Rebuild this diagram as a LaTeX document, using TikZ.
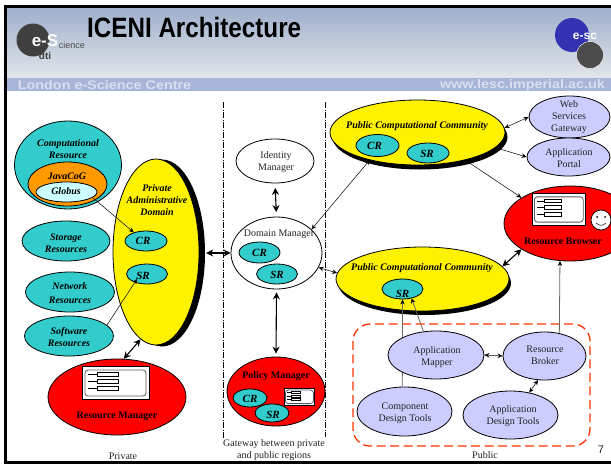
\documentclass[tikz,border=0pt]{standalone}
\usepackage{fontspec}
\setmainfont{Liberation Serif}
\newfontfamily\hsans{Liberation Sans}
\usetikzlibrary{shapes.geometric,arrows.meta,calc}
\definecolor{tealc}{HTML}{33CCCC}
\definecolor{lilac}{HTML}{CCCCFF}
\definecolor{orangec}{HTML}{FF9900}
\definecolor{paleb}{HTML}{CCFFFF}
\definecolor{txt}{HTML}{222222}
\definecolor{headtop}{HTML}{9FB0CC}
\definecolor{headbot}{HTML}{E2E5EA}
\definecolor{bandc}{HTML}{A9B5D8}
\definecolor{bandt}{HTML}{D9DFF0}
\tikzset{
  ell/.style n args={2}{ellipse,draw=black,line width=.8pt,inner sep=0pt,minimum width=#1pt,minimum height=#2pt},
  shad/.style n args={2}{ellipse,fill=black,inner sep=0pt,minimum width=#1pt,minimum height=#2pt},
  bi/.style={font=\fontsize{10}{12}\selectfont\bfseries\itshape,align=center,inner sep=0pt,text=black},
  bb/.style={font=\fontsize{10}{12}\selectfont\bfseries,align=center,inner sep=0pt,text=black},
  rg/.style={font=\fontsize{10}{12}\selectfont,align=center,inner sep=0pt,text=txt},
  thin2/.style={line width=.5pt,{Stealth[length=5pt,width=4.5pt]}-{Stealth[length=5pt,width=4.5pt]}},
  thick2/.style={line width=1.1pt,{Stealth[length=7pt,width=7pt]}-{Stealth[length=7pt,width=7pt]}},
  one/.style={line width=.5pt,-{Stealth[length=5pt,width=4.5pt]}},
  grayone/.style={draw=black!60,line width=.8pt,-{Stealth[length=5pt,width=4.5pt,black]}},
  sepline/.style={line width=.35pt,dash pattern=on 6pt off 1.5pt on 1pt off 1.5pt},
  bandtext/.style={font=\hsans\bfseries\fontsize{12.5}{14}\selectfont,text=bandt,inner sep=0pt},
}
\newcommand{\respanel}[4]{%
  \begin{scope}[shift={(#1,#2)},xscale=#3,yscale=#4]
    \draw[fill=white,line width=.7pt] (0,0) rectangle (67,33);
    \draw[black!65,line width=.8pt,rounded corners=3pt] (3,4) rectangle (64,30);
    \foreach \ry in {6,13,20}{
      \draw[line width=.5pt,fill=white] (15,\ry) rectangle (36,\ry+4);
      \draw[line width=.5pt] (6,\ry+2) -- (15,\ry+2);
    }
  \end{scope}}
\begin{document}
\begin{tikzpicture}[x=1pt,y=-1pt]
\useasboundingbox (0,0) rectangle (611,466);
\clip (0,0) rectangle (611,466);
\fill[white] (0,0) rectangle (611,466);
% header
\shade[top color=headtop,bottom color=headbot] (7,8) rectangle (611,78);
\fill[bandc] (7,78) rectangle (611,91);
\node[bandtext] (lesc) at (104.5,85) {\scalebox{1.15}[1]{London e-Science Centre}};
\node[bandtext] (www) at (522.5,85) {\scalebox{1.15}[1]{www.lesc.imperial.ac.uk}};
% left logo
\node[circle,fill=black!75,inner sep=0pt,minimum size=33pt] (lg) at (33,40) {};
\node[font=\hsans\bfseries\fontsize{17}{18}\selectfont,text=white,inner sep=0pt] (lg1) at (45,41) {e-S};
\node[font=\hsans\fontsize{9}{10}\selectfont,text=black!70,inner sep=0pt] (lg2) at (72,45) {cience};
\node[font=\hsans\bfseries\fontsize{10}{11}\selectfont,text=black!75,inner sep=0pt] (lg3) at (45,56) {dti};
% title
\node[font=\hsans\bfseries\fontsize{28}{30}\selectfont,inner sep=0pt,anchor=west] (title) at (87,27) {\scalebox{.865}[1]{ICENI Architecture}};
% right logo
\node[circle,fill=blue!62!black!80!white,inner sep=0pt,minimum size=34pt] (rl) at (572,35) {};
\node[font=\hsans\bfseries\fontsize{12}{13}\selectfont,text=white,inner sep=0pt] (rlt) at (585,36) {e-sc};
\node[circle,fill=black!70,draw=white,inner sep=0pt,minimum size=27pt] (rl2) at (590,55) {};
% frame
\draw[line width=2.6pt,black] (5.5,6.5) rectangle (625,462.5);
% separators
\coordinate (sa1) at (223.5,102); \coordinate (sa2) at (223.5,438);
\coordinate (sb1) at (325.5,102); \coordinate (sb2) at (325.5,437);
\draw[sepline] (sa1) -- (sa2);
\draw[sepline] (sb1) -- (sb2);
% private side
\node[ell={107}{88},fill=tealc] (comp) at (68,165) {};
\node[ell={79}{44},fill=orangec] (java) at (67.5,184) {};
\node[ell={61}{20},fill=paleb] (glob) at (66.5,192) {};
\node[bi] (compL) at (68,149) {Computational\\Resource};
\node[bi] (javaL) at (67,176) {JavaCoG};
\node[bi] (globL) at (66,191) {Globus};
\node[shad={86}{187}] (yshadow) at (162,253) {};
\node[ell={86}{186},fill=yellow] (yel) at (156,252) {};
\node[bi] (yelL) at (157,200) {Private\\Administrative\\Domain};
\node[ell={42}{20},fill=tealc] (cr1) at (146,241) {};
\node[ell={41}{20},fill=tealc] (sr1) at (147,274) {};
\node[bi,font=\fontsize{11}{12}\selectfont\bfseries\itshape] (cr1L) at (143,241) {CR};
\node[bi,font=\fontsize{11}{12}\selectfont\bfseries\itshape] (sr1L) at (143,276) {SR};
\node[ell={88}{40},fill=tealc] (stor) at (66,241) {};
\node[bi] (storL) at (66,243) {Storage\\Resources};
\node[ell={89}{40},fill=tealc] (netw) at (70,292) {};
\node[bi,font=\fontsize{10}{13.5}\selectfont\bfseries\itshape] (netwL) at (70,293) {Network\\Resources};
\node[ell={89}{40},fill=tealc] (soft) at (69,336) {};
\node[bi] (softL) at (69,337) {Software\\Resources};
\node[ell={138}{76},fill=red] (rm) at (117,397) {};
\respanel{82}{366}{1}{1}
\node[bb] (rmL) at (117,416) {Resource Manager};
\coordinate (srin) at ($(sr1)+(-10,5)$);
\draw[one] (glob.-12) -- (cr1.145);
\draw[one] (soft.16) -- (srin);
\draw[thick2] (yel.260) -- (rm.80);
% gateway
\node[ell={78}{44},fill=white] (iden) at (275,161) {};
\node[rg] (idenL) at (276,162) {Identity\\Manager};
\node[ell={91}{72},fill=white] (dom) at (276.5,253) {};
\node[rg] (domL) at (279,234) {Domain Manager};
\node[ell={41}{21},fill=tealc] (cr2) at (259.5,252.5) {};
\node[ell={41}{20},fill=tealc] (sr2) at (277,274) {};
\node[bi,font=\fontsize{11}{12}\selectfont\bfseries\itshape] (cr2L) at (259.5,253) {CR};
\node[bi,font=\fontsize{11}{12}\selectfont\bfseries\itshape] (sr2L) at (277,274.5) {SR};
\node[ell={98}{69},fill=red] (pol) at (276,391.5) {};
\node[bb] (polL) at (276,376) {Policy Manager};
\node[ell={34}{18},fill=tealc] (cr3) at (250,398) {};
\respanel{284}{388}{.46}{.52}
\node[ell={34}{18},fill=tealc] (sr3) at (272,413) {};
\node[bi,font=\fontsize{11}{12}\selectfont\bfseries\itshape] (cr3L) at (250,398.5) {CR};
\node[bi,font=\fontsize{11}{12}\selectfont\bfseries\itshape] (sr3L) at (273,414.5) {SR};
\draw[thick2,shorten <=4.5pt,shorten >=4.5pt] (iden.south) -- (dom.north);
\draw[thick2,shorten <=3pt,shorten >=3pt] (dom.south) -- (pol.north);
\draw[thick2,shorten <=1pt] (yshadow.east) -- (dom.west);
% public top
\node[shad={175}{65}] (p1s) at (420,137) {};
\node[ell={175}{65},fill=yellow] (pcc1) at (417.5,132.5) {};
\node[bi] (pcc1L) at (417,126) {Public Computational Community};
\node[ell={43}{22},fill=tealc] (cr4) at (377.5,145.5) {};
\node[ell={42}{20},fill=tealc] (sr4) at (428,153) {};
\node[bi,font=\fontsize{11}{12}\selectfont\bfseries\itshape] (cr4L) at (374.5,146) {CR};
\node[bi,font=\fontsize{11}{12}\selectfont\bfseries\itshape] (sr4L) at (427,153.5) {SR};
\node[ell={81}{42},fill=lilac] (web) at (569.5,117) {};
\node[rg] (webL) at (569,117) {Web\\Services\\Gateway};
\node[ell={83}{38},fill=lilac] (port) at (568.5,157) {};
\node[rg] (portL) at (569,158) {Application\\Portal};
\node[ell={132}{75},fill=red] (brow) at (570,223.5) {};
\respanel{532}{193}{.8}{.97}
\node[circle,draw=black,line width=.7pt,fill=white,inner sep=0pt,minimum size=20pt] (face) at (601,220) {};
\fill (597,217) circle (1pt) (605,217) circle (1pt);
\draw[line width=.5pt] (596,223) .. controls (599,226) and (603,226) .. (606,223);
\node[bb] (browL) at (563,241) {Resource Browser};
% public lower
\node[shad={173}{64}] (p2s) at (424.5,283) {};
\node[ell={173}{64},fill=yellow] (pcc2) at (422.5,279) {};
\node[bi] (pcc2L) at (422,268) {Public Computational Community};
\node[ell={41}{20},fill=tealc] (sr5) at (402.5,289) {};
\node[bi,font=\fontsize{11}{12}\selectfont\bfseries\itshape] (sr5L) at (402.5,294) {SR};
% dashed group
\node[draw={rgb,255:red,255;green,51;blue,0},line width=1.3pt,dash pattern=on 9pt off 4.5pt,rounded corners=17pt,minimum width=237pt,minimum height=122pt,inner sep=0pt] (grp) at (471.5,385) {};
% tools
\node[ell={95}{49},fill=lilac] (comt) at (404.5,411.5) {};
\draw[grayone] (comt.95) -- (sr5.south);
\node[ell={96}{48},fill=lilac] (mapp) at (436,355) {};
\node[ell={83}{48},fill=lilac] (brok) at (544.5,356) {};
\node[ell={95}{48},fill=lilac] (appd) at (510.5,415) {};
\node[rg] (comtL) at (405,413.5) {Component\\Design Tools};
\node[rg] (mappL) at (437,357) {Application\\Mapper};
\node[rg] (brokL) at (545,355) {Resource\\Broker};
\node[rg] (appdL) at (513,416.5) {Application\\Design Tools};
\draw[grayone] (mapp.118) -- (sr5.-46);
\draw[grayone] (brok.57) -- (brow.255);
\draw[thin2] (mapp.east) -- (brok.west);
\draw[thin2] (appd.50) -- (brok.255);
% public arrows
\draw[thin2] (pcc1.3) -- (web.180);
\draw[thin2] (pcc1.-11) -- (port.180);
\draw[thin2] (pcc1.-30) -- (brow.152);
\draw[thin2] (pcc1.210) -- (dom.34);
\draw[thin2] (dom.-19) -- (pcc2.176);
\draw[thick2] (pcc2.9.5) -- (brow.208);
% captions
\node[rg] (privC) at (123,456) {Private};
\node[rg] (gateC) at (274,450) {Gateway between private\\and public regions};
\node[rg] (pubC) at (485,455) {Public};
\node[rg,font=\hsans\fontsize{11}{12}\selectfont] (pageno) at (601,450) {7};
\end{tikzpicture}
\end{document}
